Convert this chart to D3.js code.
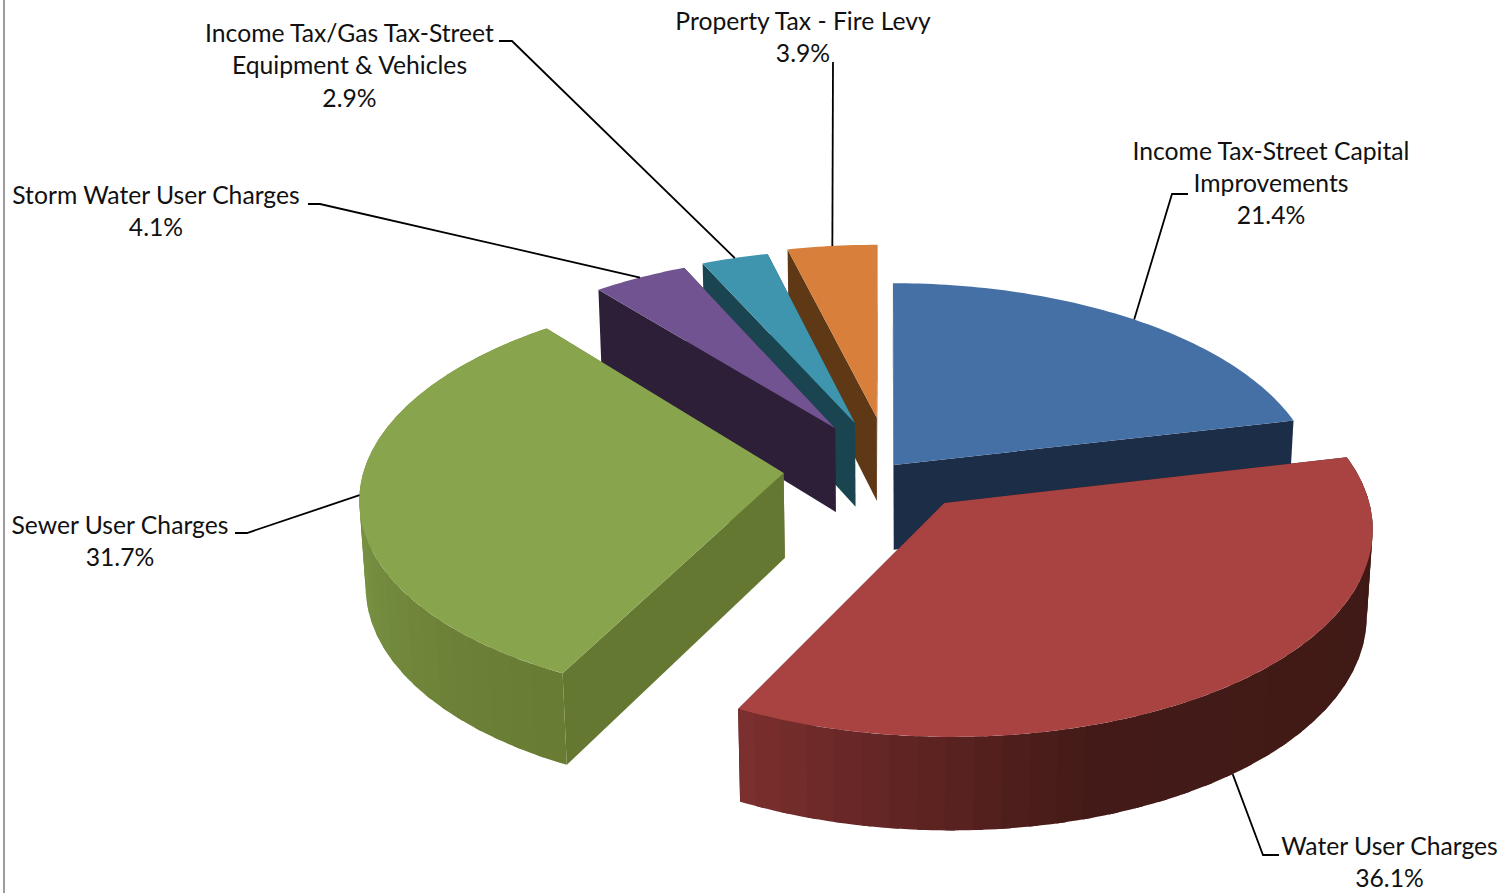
<!DOCTYPE html>
<html>
<head>
<meta charset="utf-8">
<script src="https://cdn.jsdelivr.net/npm/d3@7"></script>
<style>
  html, body { margin: 0; padding: 0; background: #fff; overflow: hidden; }
  text { font-family: Lato, "Open Sans", sans-serif; fill: #111; }
</style>
</head>
<body>
<svg id="chart" width="1504" height="893"></svg>
<script>
// Capital funding sources, shares in percent (clockwise from twelve o'clock)
const categories = [
  "Income Tax-Street Capital Improvements",
  "Water User Charges",
  "Sewer User Charges",
  "Storm Water User Charges",
  "Income Tax/Gas Tax-Street Equipment & Vehicles",
  "Property Tax - Fire Levy"
];
const shares = [21.4, 36.1, 31.7, 4.1, 2.9, 3.9];

const topColors  = ["#4570a5", "#a84342", "#88a44d", "#705390", "#3f95ae", "#d8803b"];
const wallColors = ["#1b2d47", "#3e1a15", "#647832", "#2d1f38", "#1a4550", "#5f3816"];

// How far each wedge is pulled from the pie centre, in radius units (x, y on the pie plane)
const pullX = [0.021, 0.138, -0.240, -0.121, -0.073, -0.020];
const pullY = [0.030, -0.155, -0.010, 0.215, 0.242, 0.270];
const wedgeRadius = [1, 0.99, 0.995, 1, 1, 1];

// Rim shading by angle (degrees) for the two wedges whose outer wall is visible
const rimStops = {
  1: { angles: [77, 162, 207], colors: ["#3e1a15", "#431a17", "#7d302f"] },
  2: { angles: [207, 222, 272], colors: ["#687b32", "#6c8037", "#7d9947"] }
};

// Label text, line by line, with centre x, first baseline and leader elbow points
const labelLines = [
  ["Income Tax-Street Capital", "Improvements", "21.4%"],
  ["Water User Charges", "36.1%"],
  ["Sewer User Charges", "31.7%"],
  ["Storm Water User Charges", "4.1%"],
  ["Income Tax/Gas Tax-Street", "Equipment & Vehicles", "2.9%"],
  ["Property Tax - Fire Levy", "3.9%"]
];
const labelCentreX = [1271, 1389.5, 120, 156, 349.5, 803];
const labelBaseline = [159.5, 855, 534, 204, 42, 30];
const leaderElbows = [
  [[1172, 194], [1188, 194]],
  [[1263, 855], [1279, 855]],
  [[247, 533], [235, 533]],
  [[320, 204], [308, 204]],
  [[512, 41], [499, 41]],
  [[833, 62]]
];

// Camera: a projective map of the pie plane onto the page
const cam = { cx: 885, cy: 471, sx: 422, sy: 203, depth: 86, persp: 0.11, fall: 0.012 };
function project(x, y, d) {
  const w = 1 + cam.persp * y + cam.fall * d;
  return [cam.cx + cam.sx * x / w, cam.cy - cam.sy * y / w + cam.depth * d / w];
}

const arcs = d3.pie().sort(null).value(d => d)
  .startAngle(0).endAngle(2 * Math.PI)(shares);

const rimPoint = (i, a, d) => project(
  pullX[i] + wedgeRadius[i] * Math.sin(a),
  pullY[i] + wedgeRadius[i] * Math.cos(a), d);
const apexPoint = (i, d) => project(pullX[i], pullY[i], d);

const deg = Math.PI / 180;
const path = d3.line();
const svg = d3.select("#chart");

// Thin frame line along the left side
svg.append("line").attr("x1", 4).attr("x2", 4).attr("y1", 0).attr("y2", 893)
  .attr("stroke", "#9c9c9c").attr("stroke-width", 2);

function samples(a0, a1, step) {
  const n = Math.max(1, Math.ceil((a1 - a0) / step));
  return d3.range(n + 1).map(k => a0 + (a1 - a0) * k / n);
}

// Back wedges first so the nearer ones overlap them
const drawOrder = [5, 4, 3, 0, 2, 1];
drawOrder.forEach(i => {
  const arc = arcs[i];
  const g = svg.append("g");

  // The two flat cut faces
  [arc.startAngle, arc.endAngle].forEach(a => {
    const quad = [apexPoint(i, 0), rimPoint(i, a, 0), rimPoint(i, a, 1), apexPoint(i, 1)];
    g.append("path").attr("d", path(quad) + "Z").attr("fill", wallColors[i]);
  });

  // Curved outer wall as narrow shaded bands; each band runs slightly under the next
  const stops = rimStops[i];
  if (stops) {
    const shade = d3.scaleLinear().domain(stops.angles).range(stops.colors).clamp(true);
    const bands = samples(arc.startAngle, arc.endAngle, 3.5 * deg);
    d3.pairs(bands).reverse().forEach(([a, b]) => {
      const end = Math.min(b + 1.2 * deg, arc.endAngle);
      const top = samples(a, end, deg).map(t => rimPoint(i, t, 0));
      const bottom = samples(a, end, deg).map(t => rimPoint(i, t, 1)).reverse();
      g.append("path").attr("d", path(top.concat(bottom)) + "Z")
        .attr("fill", shade((a + b) / 2 / deg));
    });
  }

  // Top face
  const outline = [apexPoint(i, 0)].concat(
    samples(arc.startAngle, arc.endAngle, deg).map(t => rimPoint(i, t, 0)));
  g.append("path").attr("d", path(outline) + "Z").attr("fill", topColors[i]);
});

// Leader lines start on the rim at each wedge's middle angle
const leaderDepth = [0, 1, 0, 0, 0, 0];
arcs.forEach((arc, i) => {
  const mid = (arc.startAngle + arc.endAngle) / 2;
  const pts = [rimPoint(i, mid, leaderDepth[i])].concat(leaderElbows[i]);
  svg.append("path").attr("d", path(pts)).attr("fill", "none")
    .attr("stroke", "#000").attr("stroke-width", 1.8);
});

// Labels
labelLines.forEach((lines, i) => {
  const t = svg.append("text").attr("text-anchor", "middle").attr("font-size", 24.7);
  lines.forEach((s, k) => {
    t.append("tspan").attr("x", labelCentreX[i])
      .attr("y", labelBaseline[i] + k * 32.3).text(s);
  });
});
</script>
</body>
</html>
